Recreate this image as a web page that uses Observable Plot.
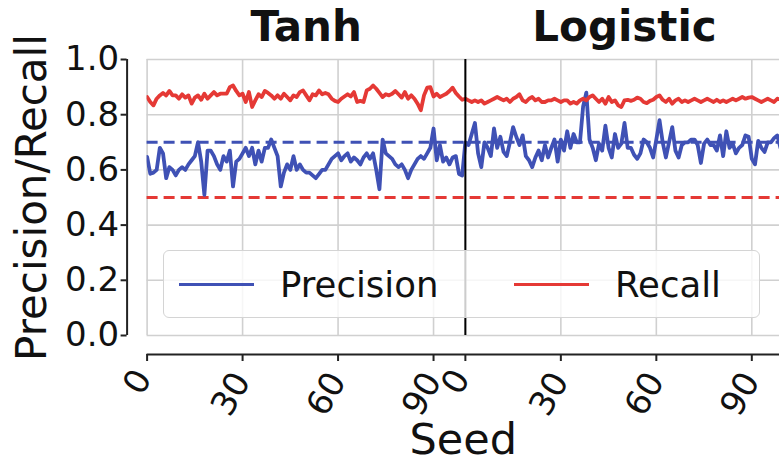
<!DOCTYPE html>
<html>
<head>
<meta charset="utf-8">
<script src="https://cdn.jsdelivr.net/npm/d3@7"></script>
<script src="https://cdn.jsdelivr.net/npm/@observablehq/plot@0.6"></script>
<style>
  body { margin: 0; background: #fff; font-family: "DejaVu Sans", sans-serif; }
  #chart { position: relative; width: 779px; height: 462px; overflow: hidden; }
  .legend { position: absolute; left: 163px; top: 250px; width: 597px; height: 68px; box-sizing: border-box;
            border: 1px solid #d4d4d4; border-radius: 6px; background: rgba(255,255,255,0.8); }
  .item { position: absolute; top: 0; height: 66px; display: flex; align-items: center; font-size: 35.5px; color: #111; }
  .swatch { display: inline-block; width: 75px; height: 0; border-top: 3px solid; margin-right: 26px; }
</style>
</head>
<body>
<div id="chart"></div>
<script>
// Activation functions, one panel each, seeds 0..99 per panel
const panels = ["Tanh", "Logistic"];
const metrics = ["Precision", "Recall"];
const metricColors = ["#3f51b5", "#e53935"];
const seedTicks = [0, 30, 60, 90];
const yTicks = [0, 0.2, 0.4, 0.6, 0.8, 1.0];
// Horizontal reference levels
const precisionTarget = 0.7;
const recallTarget = 0.5;

const tanhPrecision = [
  0.647, 0.586, 0.59, 0.60, 0.68, 0.66, 0.57, 0.61, 0.60, 0.58,
  0.60, 0.61, 0.60, 0.62, 0.635, 0.65, 0.70, 0.63, 0.51, 0.67,
  0.67, 0.65, 0.62, 0.60, 0.65, 0.63, 0.67, 0.54, 0.63, 0.64,
  0.66, 0.68, 0.65, 0.68, 0.62, 0.67, 0.63, 0.68, 0.68, 0.71,
  0.68, 0.65, 0.54, 0.59, 0.62, 0.60, 0.65, 0.60, 0.62, 0.60,
  0.59, 0.59, 0.58, 0.57, 0.585, 0.60, 0.60, 0.62, 0.64, 0.65,
  0.66, 0.635, 0.65, 0.66, 0.63, 0.645, 0.635, 0.62, 0.645, 0.66,
  0.64, 0.66, 0.60, 0.53, 0.71, 0.66, 0.65, 0.64, 0.62, 0.61,
  0.62, 0.60, 0.57, 0.60, 0.62, 0.64, 0.65, 0.64, 0.66, 0.68,
  0.75, 0.635, 0.69, 0.63, 0.645, 0.62, 0.645, 0.65, 0.585, 0.58
];
const tanhRecall = [
  0.864, 0.846, 0.834, 0.858, 0.87, 0.879, 0.87, 0.886, 0.87, 0.87,
  0.858, 0.874, 0.862, 0.87, 0.84, 0.862, 0.87, 0.854, 0.876, 0.858,
  0.87, 0.882, 0.87, 0.876, 0.876, 0.876, 0.90, 0.906, 0.886, 0.87,
  0.876, 0.846, 0.882, 0.828, 0.852, 0.874, 0.864, 0.886, 0.879, 0.87,
  0.858, 0.87, 0.858, 0.876, 0.864, 0.852, 0.87, 0.864, 0.882, 0.888,
  0.87, 0.852, 0.874, 0.87, 0.888, 0.874, 0.879, 0.874, 0.858, 0.85,
  0.846, 0.858, 0.866, 0.874, 0.866, 0.882, 0.846, 0.85, 0.846, 0.888,
  0.894, 0.906, 0.894, 0.879, 0.864, 0.874, 0.87, 0.876, 0.886, 0.874,
  0.862, 0.882, 0.858, 0.87, 0.858, 0.84, 0.816, 0.87, 0.898, 0.90,
  0.866, 0.876, 0.864, 0.87, 0.876, 0.886, 0.898, 0.879, 0.866, 0.854
];
const logisticPrecision = [
  0.70, 0.69, 0.73, 0.77, 0.66, 0.61, 0.70, 0.68, 0.65, 0.75,
  0.68, 0.72, 0.665, 0.65, 0.70, 0.755, 0.72, 0.69, 0.725, 0.65,
  0.635, 0.61, 0.645, 0.67, 0.635, 0.69, 0.645, 0.68, 0.71, 0.63,
  0.71, 0.67, 0.74, 0.68, 0.73, 0.70, 0.70, 0.83, 0.88, 0.71,
  0.68, 0.635, 0.695, 0.67, 0.76, 0.68, 0.645, 0.73, 0.68, 0.695,
  0.77, 0.68, 0.68, 0.655, 0.64, 0.66, 0.71, 0.70, 0.68, 0.645,
  0.71, 0.78, 0.70, 0.645, 0.70, 0.755, 0.67, 0.645, 0.69, 0.70,
  0.70, 0.71, 0.71, 0.69, 0.625, 0.695, 0.71, 0.69, 0.69, 0.67,
  0.725, 0.65, 0.74, 0.68, 0.695, 0.66, 0.68, 0.69, 0.725, 0.72,
  0.64, 0.62, 0.705, 0.68, 0.665, 0.70, 0.70, 0.715, 0.725, 0.68
];
const logisticRecall = [
  0.858, 0.852, 0.846, 0.852, 0.846, 0.852, 0.84, 0.846, 0.852, 0.858,
  0.864, 0.858, 0.852, 0.858, 0.846, 0.858, 0.864, 0.874, 0.852, 0.846,
  0.858, 0.864, 0.852, 0.858, 0.846, 0.846, 0.852, 0.852, 0.858, 0.852,
  0.846, 0.852, 0.852, 0.84, 0.846, 0.84, 0.852, 0.858, 0.852, 0.864,
  0.87, 0.858, 0.846, 0.858, 0.84, 0.864, 0.846, 0.852, 0.834, 0.828,
  0.852, 0.854, 0.85, 0.854, 0.862, 0.858, 0.846, 0.842, 0.85, 0.854,
  0.864, 0.87, 0.854, 0.846, 0.858, 0.84, 0.852, 0.858, 0.846, 0.852,
  0.846, 0.852, 0.858, 0.852, 0.846, 0.852, 0.858, 0.852, 0.846, 0.854,
  0.846, 0.852, 0.846, 0.852, 0.858, 0.852, 0.858, 0.864, 0.858, 0.862,
  0.864, 0.858, 0.852, 0.846, 0.852, 0.858, 0.852, 0.846, 0.858, 0.855
];

// Panels are laid side by side on one seed axis, each offset by the panel size
const seedsPerPanel = 100;
const seriesByPanel = [
  {Precision: tanhPrecision, Recall: tanhRecall},
  {Precision: logisticPrecision, Recall: logisticRecall}
];
const records = [];
metrics.forEach(metric => {
  seriesByPanel.forEach((series, p) => {
    series[metric].forEach((value, seed) => {
      records.push({metric, x: p * seedsPerPanel + seed, value});
    });
  });
});
const targets = [
  {metric: "Precision", value: precisionTarget},
  {metric: "Recall", value: recallTarget}
];
const tickPositions = panels.flatMap((_, p) => seedTicks.map(t => ({pos: p * seedsPerPanel + t, label: String(t)})));
const panelBoundaries = panels.slice(1).map((_, i) => (i + 1) * seedsPerPanel);

const spine = "#222";
const chart = Plot.plot({
  width: 779,
  height: 462,
  marginLeft: 146.6,
  marginRight: 0,
  marginTop: 59,
  marginBottom: 127,
  x: {domain: [0, 198.7], axis: null},
  y: {domain: [0, 1], axis: null},
  color: {domain: metrics, range: metricColors},
  style: {fontFamily: "'DejaVu Sans', sans-serif", fontSize: "34px", color: "#111", background: "transparent"},
  marks: [
    Plot.gridY(yTicks, {stroke: "#d0d0d0", strokeOpacity: 1, strokeWidth: 1.6}),
    Plot.gridX(tickPositions.map(d => d.pos), {stroke: "#d0d0d0", strokeOpacity: 1, strokeWidth: 1.6}),
    Plot.ruleY(targets, {y: "value", stroke: "metric", strokeWidth: 3, strokeDasharray: "11,6"}),
    Plot.line(records, {x: "x", y: "value", z: "metric", stroke: "metric", strokeWidth: 3.8, clip: true}),
    Plot.ruleX(panelBoundaries, {stroke: "#000", strokeWidth: 2}),
    // left spine, offset from the plotting area
    Plot.ruleX([0], {dx: -20, stroke: spine, strokeWidth: 2}),
    Plot.axisY({ticks: yTicks, tickFormat: d => d.toFixed(1), tickSize: 6, tickPadding: 2, dx: -20,
                label: null, stroke: spine, strokeWidth: 2, fontSize: 34}),
    // bottom spine, offset below the plotting area
    Plot.ruleY([0], {dy: 19, stroke: spine, strokeWidth: 2}),
    Plot.axisX({ticks: tickPositions.map(d => d.pos), tickFormat: () => "", tickSize: 7, dy: 19,
                label: null, stroke: spine, strokeWidth: 2}),
    Plot.text(tickPositions.filter(d => d.label.length === 1), {
      x: "pos", text: "label", frameAnchor: "bottom", rotate: -60, dy: 52, dx: 0, fontSize: 34
    }),
    Plot.text(tickPositions.filter(d => d.label.length > 1), {
      x: "pos", text: "label", frameAnchor: "bottom", rotate: -60, dy: 64, dx: -2, fontSize: 34
    }),
    Plot.text(panels, {
      x: (d, i) => i * seedsPerPanel + seedsPerPanel / 2, text: d => d,
      frameAnchor: "top", lineAnchor: "bottom", dy: -19, fontWeight: "bold", fontSize: 42
    }),
    Plot.text(["Precision/Recall"], {
      text: d => d, frameAnchor: "left", textAnchor: "middle", rotate: -90, dx: -115, fontSize: 42
    }),
    Plot.text(["Seed"], {text: d => d, frameAnchor: "bottom", lineAnchor: "bottom", dy: 118, fontSize: 43})
  ]
});

const container = document.getElementById("chart");
container.appendChild(chart);

// Legend overlaid inside the plotting area
const legend = document.createElement("div");
legend.className = "legend";
const itemLefts = [15, 350];
metrics.forEach((m, i) => {
  const item = document.createElement("div");
  item.className = "item";
  item.style.left = itemLefts[i] + "px";
  const sw = document.createElement("span");
  sw.className = "swatch";
  sw.style.borderTopColor = metricColors[i];
  item.appendChild(sw);
  item.appendChild(document.createTextNode(m));
  legend.appendChild(item);
});
container.appendChild(legend);
</script>
</body>
</html>
